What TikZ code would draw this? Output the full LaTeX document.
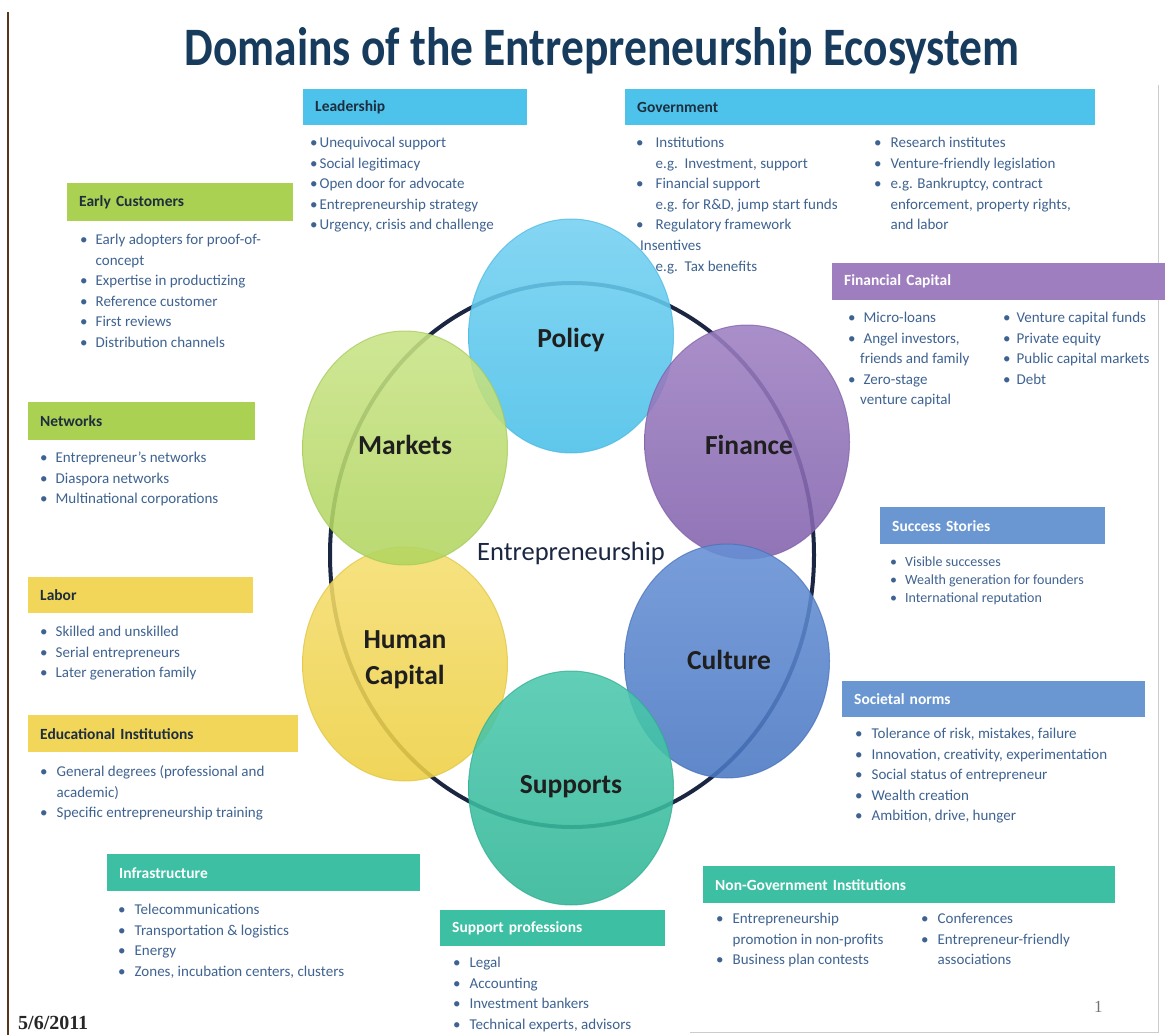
\documentclass[tikz,border=0pt]{standalone}
\usepackage{fontspec}
\setmainfont{Carlito}
\newfontfamily\serifdate{Liberation Serif}
\usepackage{graphicx}
\usetikzlibrary{shapes.geometric}
\definecolor{cyanH}{HTML}{4DC3EC}
\definecolor{greenH}{HTML}{AAD152}
\definecolor{yellowH}{HTML}{F1D65A}
\definecolor{purpleH}{HTML}{9E7EBF}
\definecolor{blueH}{HTML}{6A97D2}
\definecolor{tealH}{HTML}{3CBFA2}
\definecolor{itemC}{HTML}{3F6391}
\definecolor{titleC}{HTML}{173B5C}
\definecolor{hdrDark}{HTML}{1E2E3E}
\definecolor{ringC}{HTML}{1B2742}
\definecolor{polT}{HTML}{74D1F2}\definecolor{polB}{HTML}{4AC0E9}\definecolor{polE}{HTML}{4AB8E0}
\definecolor{finT}{HTML}{9E80C3}\definecolor{finB}{HTML}{8262AD}\definecolor{finE}{HTML}{7E5FA6}
\definecolor{culT}{HTML}{6690D5}\definecolor{culB}{HTML}{4A78C3}\definecolor{culE}{HTML}{4670B8}
\definecolor{supT}{HTML}{4CC9AE}\definecolor{supB}{HTML}{30B696}\definecolor{supE}{HTML}{2EAC8E}
\definecolor{humT}{HTML}{F5DE70}\definecolor{humB}{HTML}{EED043}\definecolor{humE}{HTML}{E0C33C}
\definecolor{marT}{HTML}{C9E487}\definecolor{marB}{HTML}{B1D55F}\definecolor{marE}{HTML}{A3C955}
\newcommand\itemfont{\fontsize{15}{20.6}\selectfont}
\newcommand\smallitemfont{\fontsize{14}{18}\selectfont}
\newcommand\bl[2][6pt]{\begin{tabular}[t]{@{}l@{\hspace{#1}}l@{}}#2\end{tabular}}
\newcommand\bu{\textbullet}
\tikzset{
  hbox/.style={anchor=north west, minimum height=36pt, inner xsep=12pt, inner ysep=0pt,
    align=left, fill=#1, font=\fontsize{15.5}{17}\selectfont\bfseries},
  hdark/.style={text=hdrDark},
  hlight/.style={text=white},
  lst/.style={anchor=base west, inner sep=0pt, font=\itemfont, text=itemC},
  domain/.style n args={3}{ellipse, minimum width=205pt, minimum height=234pt, inner sep=0pt,
    top color=#1, bottom color=#2, draw=#3, line width=1pt, fill opacity=0.88, draw opacity=0.7},
  dlabel/.style={font=\fontsize{27.5}{36}\selectfont\bfseries, text=black!88, align=center, inner sep=0pt},
}
\begin{document}
\begin{tikzpicture}[x=1pt,y=-1pt]
\useasboundingbox (0,0) rectangle (1165,1035);
\fill[white] (0,0) rectangle (1165,1035);
% frame lines
\draw[line width=1.2pt, color=black!55!brown] (8,12) -- (8,1035);
\draw[line width=0.6pt, color=black!20] (1158,85) -- (1158,1032) -- (690,1032);
% title
\node[anchor=base, inner sep=0pt, text=titleC] (title) at (602,66)
  {\resizebox{835pt}{38pt}{\fontsize{40}{40}\selectfont\bfseries Domains of the Entrepreneurship Ecosystem}};

% ring (behind the semi-transparent domains)
\draw[line width=4pt, color=ringC] (572,555) ellipse [x radius=242, y radius=272];
% domain ellipses
\node[domain={polT}{polB}{polE}] (policy) at (571,336) {};
\node[domain={finT}{finB}{finE}] (finance) at (747,442) {};
\node[domain={humT}{humB}{humE}] (human) at (405,664) {};
\node[domain={marT}{marB}{marE}] (markets) at (405,448) {};
\node[domain={culT}{culB}{culE}] (culture) at (727,661) {};
\node[domain={supT}{supB}{supE}] (supports) at (571,788) {};
\node[dlabel] (lpolicy) at (571,340) {Policy};
\node[dlabel] (lfinance) at (749,445) {Finance};
\node[dlabel] (lculture) at (729,660) {Culture};
\node[dlabel] (lsupports) at (571,787) {Supports};
\node[dlabel] (lhuman) at (405,660) {Human\\Capital};
\node[dlabel] (lmarkets) at (405,445) {Markets};
\node[font=\fontsize{26.5}{30}\selectfont, text=ringC, inner sep=0pt] (entre) at (571,553) {Entrepreneurship};

% Leadership
\node[hbox=cyanH, hdark, minimum width=224pt, text width=200pt] (leadH) at (303,89) {Leadership};
\node[lst] (leadL) at (310,147.5) {\bl[2pt]{\bu & Unequivocal support\\ \bu & Social legitimacy\\ \bu & Open door for advocate\\ \bu & Entrepreneurship strategy\\ \bu & Urgency, crisis and challenge}};

% Government
\node[hbox=cyanH, hdark, minimum width=470pt, text width=446pt] (govH) at (625,89) {Government};
\node[lst] (govL1) at (636,147.5) {\bl[12pt]{\bu & Institutions\\ & e.g.\ \ Investment, support\\ \bu & Financial support\\ & e.g. for R\&D, jump start funds\\ \bu & Regulatory framework\\ \multicolumn{2}{@{}l@{}}{\hspace{4pt}Insentives}\\ & e.g.\ \ Tax benefits}};
\node[lst] (govL2) at (874,147.5) {\bl[9pt]{\bu & Research institutes\\ \bu & Venture-friendly legislation\\ \bu & e.g. Bankruptcy, contract\\ & enforcement, property rights,\\ & and labor}};

% Financial Capital
\node[hbox=purpleH, hlight, minimum width=333pt, minimum height=37pt, text width=309pt] (finH) at (832,263) {Financial Capital};
\node[lst] (finL1) at (848,322.5) {\bl[8pt]{\bu & Micro-loans\\ \bu & Angel investors,\\ \multicolumn{2}{@{}l@{}}{\hspace{12pt}friends and family}\\ \bu & Zero-stage\\ \multicolumn{2}{@{}l@{}}{\hspace{12pt}venture capital}}};
\node[lst] (finL2) at (1003,322.5) {\bl[6pt]{\bu & Venture capital funds\\ \bu & Private equity\\ \bu & Public capital markets\\ \bu & Debt}};

% Early Customers
\node[hbox=greenH, hdark, minimum width=226pt, minimum height=38pt, text width=202pt] (ecH) at (67,183) {Early Customers};
\node[lst] (ecL) at (80,244.5) {\bl[8pt]{\bu & Early adopters for proof-of-\\ & concept\\ \bu & Expertise in productizing\\ \bu & Reference customer\\ \bu & First reviews\\ \bu & Distribution channels}};

% Networks
\node[hbox=greenH, hdark, minimum width=227pt, minimum height=38pt, text width=203pt] (netH) at (28,402) {Networks};
\node[lst] (netL) at (40,462.5) {\bl[8pt]{\bu & Entrepreneur's networks\\ \bu & Diaspora networks\\ \bu & Multinational corporations}};

% Success Stories
\node[hbox=blueH, hlight, minimum width=225pt, minimum height=37pt, text width=201pt] (ssH) at (880,507) {Success Stories};
\node[lst, font=\smallitemfont] (ssL) at (890,566.5) {\bl[8pt]{\bu & Visible successes\\ \bu & Wealth generation for founders\\ \bu & International reputation}};

% Labor
\node[hbox=yellowH, hdark, minimum width=225pt, text width=201pt] (labH) at (28,577) {Labor};
\node[lst] (labL) at (40,636.5) {\bl[8pt]{\bu & Skilled and unskilled\\ \bu & Serial entrepreneurs\\ \bu & Later generation family}};

% Educational Institutions
\node[hbox=yellowH, hdark, minimum width=270pt, minimum height=37pt, text width=246pt] (eduH) at (28,715) {Educational Institutions};
\node[lst] (eduL) at (40,776.5) {\bl[9pt]{\bu & General degrees (professional and\\ & academic)\\ \bu & Specific entrepreneurship training}};

% Societal norms
\node[hbox=blueH, hlight, minimum width=303pt, text width=279pt] (snH) at (842,681) {Societal norms};
\node[lst] (snL) at (855,738.5) {\bl[9pt]{\bu & Tolerance of risk, mistakes, failure\\ \bu & Innovation, creativity, experimentation\\ \bu & Social status of entrepreneur\\ \bu & Wealth creation\\ \bu & Ambition, drive, hunger}};

% Infrastructure
\node[hbox=tealH, hlight, minimum width=313pt, minimum height=37pt, text width=289pt] (infH) at (107,854) {Infrastructure};
\node[lst] (infL) at (118,914.5) {\bl[9pt]{\bu & Telecommunications\\ \bu & Transportation \& logistics\\ \bu & Energy\\ \bu & Zones, incubation centers, clusters}};

% Support professions
\node[hbox=tealH, hlight, minimum width=225pt, text width=201pt] (spH) at (440,910) {Support professions};
\node[lst] (spL) at (453,967.5) {\bl[9pt]{\bu & Legal\\ \bu & Accounting\\ \bu & Investment bankers\\ \bu & Technical experts, advisors}};

% Non-Government Institutions
\node[hbox=tealH, hlight, minimum width=412pt, minimum height=37pt, text width=388pt] (ngH) at (703,866) {Non-Government Institutions};
\node[lst] (ngL1) at (716,923.5) {\bl[9pt]{\bu & Entrepreneurship\\ & promotion in non-profits\\ \bu & Business plan contests}};
\node[lst] (ngL2) at (921,923.5) {\bl[9pt]{\bu & Conferences\\ \bu & Entrepreneur-friendly\\ & associations}};

% footer
\node[anchor=base west, inner sep=0pt, font=\serifdate\bfseries\fontsize{20}{22}\selectfont, text=black!85] (date) at (18,1029) {5/6/2011};
\node[anchor=base west, inner sep=0pt, font=\serifdate\fontsize{17}{18}\selectfont, text=black!55] (pnum) at (1094,1012) {1};
\end{tikzpicture}
\end{document}
